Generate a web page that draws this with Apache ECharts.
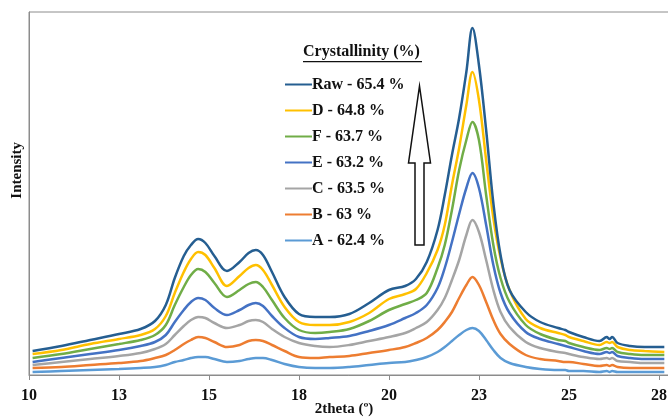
<!DOCTYPE html>
<html>
<head>
<meta charset="utf-8">
<script src="https://cdn.jsdelivr.net/npm/echarts@6/dist/echarts.min.js"></script>
<style>
  html, body { margin: 0; padding: 0; background: #fff; }
  #chart { width: 668px; height: 418px; }
</style>
</head>
<body>
<div id="chart"></div>
<script>
// 2theta positions (deg)
const twoTheta = [10.1, 10.9, 11.7, 12.5, 13.1, 13.5, 13.8, 14.05, 14.3, 14.5,
  14.7, 14.9, 15.15, 15.5, 15.85, 16.1, 16.3, 16.5, 16.75, 17.1,
  17.5, 17.95, 18.35, 18.9, 19.45, 20.0, 20.45, 20.75, 21.05, 21.35,
  21.55, 21.75, 21.95, 22.15, 22.32, 22.5, 22.7, 22.9, 23.1, 23.35,
  23.8, 24.2, 24.7, 24.9, 25.0, 25.4, 25.85, 26.05, 26.13, 26.2,
  26.35, 26.7, 27.1, 27.65]

// intensity (a.u.), one array per sample
const rawVals = [24, 29, 35, 41, 46, 54, 70, 97, 119, 130, 136, 132, 119, 104, 113, 122, 125, 120, 103, 78,
  61, 58, 58, 61, 72, 85, 89, 96, 113, 145, 180, 220, 257, 303, 347, 310, 245, 172, 120, 85,
  63, 53, 47, 45, 43, 38, 34, 38, 36, 38, 32, 29, 28, 28]
const dVals = [21, 25, 31, 36, 40, 46, 59, 82, 103, 116, 123, 120, 107, 89, 99, 107, 110, 105, 90, 68,
  53, 50, 50, 53, 62, 76, 81, 86, 102, 125, 150, 190, 227, 270, 303, 275, 215, 157, 117, 85,
  56, 47, 42, 40, 38, 34, 30, 33, 32, 33, 28, 25, 24, 23]
const fVals = [17, 21, 26, 31, 35, 40, 50, 70, 88, 100, 106, 103, 92, 78, 85, 91, 93, 88, 75, 57,
  45, 42, 43, 46, 54, 65, 71, 75, 82, 107, 130, 165, 205, 235, 253, 235, 180, 130, 97, 73,
  50, 41, 35, 34, 32, 28, 25, 27, 26, 27, 23, 21, 20, 20]
const eVals = [13, 17, 21, 25, 29, 33, 40, 53, 65, 73, 77, 75, 67, 60, 65, 70, 72, 69, 59, 47,
  38, 36, 37, 39, 44, 50, 57, 62, 70, 87, 107, 133, 161, 187, 202, 187, 150, 110, 82, 62,
  43, 36, 31, 29, 28, 24, 21, 23, 22, 23, 19, 17, 16, 16]
const cVals = [10, 13, 16, 19, 22, 26, 31, 40, 49, 55, 58, 57, 52, 47, 50, 54, 55, 53, 46, 38,
  32, 29, 28, 30, 34, 38, 42, 47, 53, 65, 77, 95, 115, 140, 155, 143, 115, 85, 63, 48,
  33, 27, 23, 22, 21, 18, 16, 17, 16, 17, 14, 13, 12, 12]
const bVals = [7, 8, 10, 12, 14, 17, 20, 25, 31, 35, 38, 37, 33, 28, 30, 34, 35, 34, 30, 24,
  18, 17, 18, 19, 22, 25, 28, 32, 37, 45, 53, 63, 77, 90, 98, 90, 73, 55, 41, 31,
  20, 16, 14, 13, 13, 11, 9, 10, 9, 10, 8, 7, 7, 7]
const aVals = [3, 4, 5, 6, 7, 8, 10, 13, 15, 17, 18, 18, 16, 13, 14, 16, 17, 17, 15, 11,
  8, 7, 7, 8, 10, 12, 13, 15, 18, 23, 28, 34, 40, 45, 47, 44, 35, 25, 17, 12,
  8, 6, 5, 5, 4, 4, 3, 4, 3, 4, 3, 3, 3, 3]

const sampleNames = ['Raw - 65.4 %', 'D - 64.8 %', 'F - 63.7 %', 'E - 63.2 %', 'C - 63.5 %', 'B - 63 %', 'A - 62.4 %']
const sampleColors = ['#255E91', '#FFC000', '#70AD47', '#4472C4', '#A5A5A5', '#ED7D31', '#5B9BD5']
const sampleData = [rawVals, dVals, fVals, eVals, cVals, bVals, aVals]

const serif = '"Liberation Serif", "Times New Roman", serif'

function pairs(vals) {
  let out = []
  for (let i = 0; i < twoTheta.length; i++) {
    out.push([twoTheta[i], vals[i]])
  }
  return out
}

let series = []
for (let i = 0; i < sampleNames.length; i++) {
  series.push({
    name: sampleNames[i],
    type: 'line',
    data: pairs(sampleData[i]),
    showSymbol: false,
    smooth: 0.35,
    color: sampleColors[i],
    lineStyle: { width: 2.5, color: sampleColors[i] },
    z: 10 - i,
    animation: false
  })
}

const chart = echarts.init(document.getElementById('chart'), null, { renderer: 'canvas' })

chart.setOption({
  backgroundColor: '#fff',
  animation: false,
  grid: {
    left: 29, right: -1, top: 12, bottom: 43,
    containLabel: false,
    outerBoundsMode: 'none',
    show: true, borderColor: '#8c8c8c', borderWidth: 1
  },
  legend: {
    orient: 'vertical',
    left: 285, top: 76,
    padding: 0,
    itemGap: 9,
    itemWidth: 27, itemHeight: 2,
    icon: 'rect',
    selectedMode: false,
    data: sampleNames,
    textStyle: {
      fontFamily: serif, fontWeight: 'bold', fontSize: 16, color: '#111',
      lineHeight: 17, padding: [0, 0, 0, -5]
    }
  },
  xAxis: {
    type: 'value',
    min: 10, max: 27.78, interval: 2.5,
    name: '2theta (º)',
    nameLocation: 'middle',
    nameGap: 27,
    nameMoveOverlap: false,
    nameTextStyle: { fontFamily: serif, fontWeight: 'bold', fontSize: 15, color: '#111', padding: [0, 10, 0, 0] },
    axisLine: { lineStyle: { color: '#8c8c8c' } },
    axisTick: { length: 5, lineStyle: { color: '#8c8c8c' } },
    splitLine: { show: false },
    axisLabel: {
      showMaxLabel: false,
      margin: 13,
      fontFamily: serif, fontWeight: 'bold', fontSize: 16, color: '#111',
      formatter: function (v) { return Math.round(v) }
    }
  },
  yAxis: {
    type: 'value',
    min: 0, max: 363,
    axisLine: { show: true, lineStyle: { color: '#8c8c8c' } },
    axisTick: { show: false },
    axisLabel: { show: false },
    splitLine: { show: false }
  },
  graphic: [
    {
      type: 'text', left: 10, top: 142, rotation: Math.PI / 2,
      style: { text: 'Intensity', fontFamily: serif, fontWeight: 'bold', fontSize: 15, fill: '#111' }
    },
    {
      type: 'text', left: 303, top: 44,
      style: { text: 'Crystallinity (%)', fontFamily: serif, fontWeight: 'bold', fontSize: 16, fill: '#111' }
    },
    {
      type: 'rect', left: 303, top: 61,
      shape: { width: 119, height: 1.2 },
      style: { fill: '#111' }
    },
    {
      type: 'polygon',
      shape: {
        points: [[419.5, 86], [430.5, 163], [424, 163], [424, 245], [415, 245], [415, 163], [408.5, 163]]
      },
      style: { fill: '#fff', stroke: '#111', lineWidth: 1.5 },
      z: 20
    }
  ],
  series: series
})
</script>
</body>
</html>
